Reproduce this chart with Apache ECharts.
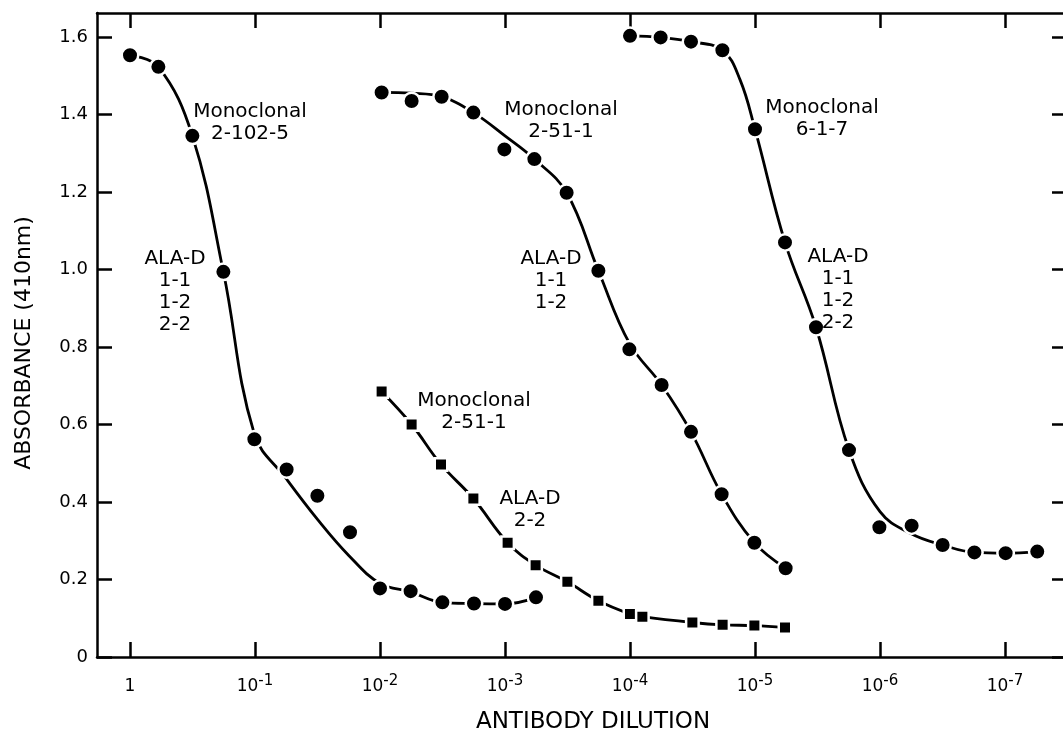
<!DOCTYPE html>
<html>
<head>
<meta charset="utf-8">
<script src="https://cdn.jsdelivr.net/npm/echarts@6/dist/echarts.min.js"></script>
<style>
html,body{margin:0;padding:0;background:#fff;}
#chart{width:1063px;height:739px;}
</style>
</head>
<body>
<div id="chart"></div>
<script>
// x = -log10(antibody dilution): 0 -> 1, 1 -> 10^-1, ... 7 -> 10^-7
const xTickValues = [0, 1, 2, 3, 4, 5, 6, 7];
const xTickBase = ['1', '10', '10', '10', '10', '10', '10', '10'];
const xTickSup = ['', '-1', '-2', '-3', '-4', '-5', '-6', '-7'];
const yTickValues = [0, 0.2, 0.4, 0.6, 0.8, 1.0, 1.2, 1.4, 1.6];
const yTickLabels = ['0', '0.2', '0.4', '0.6', '0.8', '1.0', '1.2', '1.4', '1.6'];

// Monoclonal 2-102-5 (circles)
const mono2102X = [0, 0.227, 0.499, 0.747, 0.995, 1.253, 1.499, 1.76, 2.0, 2.245, 2.499, 2.752, 3.0, 3.248];
const mono2102Y = [1.553, 1.523, 1.345, 0.994, 0.562, 0.484, 0.416, 0.322, 0.177, 0.170, 0.141, 0.138, 0.137, 0.154];
const fit2102X = [0, 0.227, 0.499, 0.747, 0.995, 1.25, 1.5, 1.75, 2.0, 2.245, 2.499, 2.752, 3.0, 3.248];
const fit2102Y = [1.553, 1.523, 1.345, 0.994, 0.575, 0.46, 0.355, 0.262, 0.19, 0.168, 0.141, 0.138, 0.137, 0.154];

// Monoclonal 2-51-1 (circles)
const mono251X = [2.013, 2.253, 2.493, 2.747, 2.995, 3.235, 3.493, 3.747, 3.995, 4.253, 4.488, 4.733, 4.995, 5.245];
const mono251Y = [1.457, 1.435, 1.446, 1.405, 1.310, 1.285, 1.198, 0.997, 0.794, 0.702, 0.581, 0.420, 0.295, 0.229];
const fit251X = [2.013, 2.25, 2.493, 2.747, 3.0, 3.235, 3.493, 3.747, 3.995, 4.253, 4.488, 4.733, 4.995, 5.245];
const fit251Y = [1.457, 1.455, 1.446, 1.405, 1.345, 1.285, 1.198, 0.997, 0.81, 0.702, 0.581, 0.420, 0.295, 0.229];

// Monoclonal 6-1-7 (circles)
const mono617X = [4.0, 4.245, 4.488, 4.739, 5.0, 5.24, 5.488, 5.752, 5.995, 6.253, 6.501, 6.755, 7.005, 7.258];
const mono617Y = [1.603, 1.599, 1.588, 1.566, 1.362, 1.070, 0.851, 0.534, 0.335, 0.339, 0.289, 0.270, 0.268, 0.272];
const fit617X = [4.0, 4.245, 4.488, 4.739, 4.88, 5.0, 5.24, 5.488, 5.752, 6.0, 6.25, 6.501, 6.755, 7.005, 7.258];
const fit617Y = [1.603, 1.599, 1.588, 1.566, 1.49, 1.362, 1.070, 0.851, 0.534, 0.375, 0.318, 0.289, 0.270, 0.268, 0.272];

// Monoclonal 2-51-1, ALA-D 2-2 (squares)
const sqX = [2.013, 2.253, 2.488, 2.747, 3.021, 3.245, 3.499, 3.747, 4.0, 4.099, 4.499, 4.741, 4.995, 5.24];
const sqY = [0.685, 0.600, 0.497, 0.409, 0.295, 0.237, 0.194, 0.145, 0.111, 0.104, 0.089, 0.083, 0.081, 0.076];

// Annotations (text anchored at data coordinates)
const noteText = [
  'Monoclonal\n2-102-5',
  'ALA-D\n1-1\n1-2\n2-2',
  'Monoclonal\n2-51-1',
  'ALA-D\n1-1\n1-2',
  'Monoclonal\n6-1-7',
  'ALA-D\n1-1\n1-2\n2-2',
  'Monoclonal\n2-51-1',
  'ALA-D\n2-2'
];
const noteX = [0.96, 0.36, 3.448, 3.368, 5.536, 5.664, 2.752, 3.2];
const noteY = [1.379, 0.942, 1.383, 0.970, 1.388, 0.947, 0.632, 0.379];

const FONT = 'DejaVu Sans';
const zip = (xs, ys) => xs.map((x, i) => [x, ys[i]]);
const XMIN = -0.264, XMAX = 7.48, YMIN = 0, YMAX = 1.662;

const axisLineStyle = { color: '#000', width: 2.5 };

const curveSeries = (data) => ({
  type: 'line', data, smooth: 0.4, showSymbol: false, symbol: 'none',
  lineStyle: { color: '#000', width: 2.8 }, z: 2, silent: true, animation: false
});
const pointSeries = (data, symbol, size) => ({
  type: 'scatter', data, symbol, symbolSize: size,
  itemStyle: { color: '#000', borderColor: '#fff', borderWidth: 2.5, opacity: 1 },
  z: 3, silent: true, animation: false
});

const chart = echarts.init(document.getElementById('chart'), null, { renderer: 'canvas' });
chart.setOption({
  backgroundColor: '#fff',
  animation: false,
  grid: { left: 97, top: 13, width: 968, height: 644, outerBoundsMode: 'none', containLabel: false },
  xAxis: [
    {
      type: 'value', min: XMIN, max: XMAX, position: 'bottom',
      name: 'ANTIBODY DILUTION', nameLocation: 'middle', nameGap: 54,
      nameTextStyle: { fontFamily: FONT, fontSize: 23, color: '#000', padding: [0, 0, 0, 24] },
      axisLine: { show: true, onZero: false, lineStyle: axisLineStyle },
      axisTick: { show: true, inside: true, length: 15, lineStyle: axisLineStyle, customValues: xTickValues },
      splitLine: { show: false },
      axisLabel: {
        customValues: xTickValues, margin: 17, color: '#000',
        formatter: (v) => {
          const i = xTickValues.findIndex(t => Math.abs(t - v) < 1e-6);
          if (i < 0) return '';
          return xTickSup[i] ? '{b|' + xTickBase[i] + '}{s|' + xTickSup[i] + '}' : '{b|' + xTickBase[i] + '}';
        },
        rich: {
          b: { fontFamily: FONT, fontSize: 17, lineHeight: 26, color: '#000' },
          s: { fontFamily: FONT, fontSize: 15, lineHeight: 8, verticalAlign: 'top', color: '#000' }
        }
      }
    },
    {
      type: 'value', min: XMIN, max: XMAX, position: 'top',
      axisLine: { show: true, onZero: false, lineStyle: axisLineStyle },
      axisTick: { show: true, inside: true, length: 15, lineStyle: axisLineStyle, customValues: xTickValues },
      axisLabel: { show: false },
      splitLine: { show: false }
    }
  ],
  yAxis: [
    {
      type: 'value', min: YMIN, max: YMAX, position: 'left',
      name: 'ABSORBANCE (410nm)', nameLocation: 'middle', nameGap: 62,
      nameTextStyle: { fontFamily: FONT, fontSize: 22, color: '#000', padding: [0, 16, 0, 0] },
      axisLine: { show: true, onZero: false, lineStyle: axisLineStyle },
      axisTick: { show: true, inside: true, length: 15, lineStyle: axisLineStyle, customValues: yTickValues },
      splitLine: { show: false },
      axisLabel: {
        customValues: yTickValues, margin: 9, color: '#000', fontFamily: FONT, fontSize: 18,
        formatter: (v) => {
          const i = yTickValues.findIndex(t => Math.abs(t - v) < 1e-6);
          return i < 0 ? '' : yTickLabels[i];
        }
      }
    },
    {
      type: 'value', min: YMIN, max: YMAX, position: 'right',
      axisLine: { show: false, onZero: false, lineStyle: axisLineStyle },
      axisTick: { show: true, inside: true, length: 13, lineStyle: axisLineStyle, customValues: yTickValues },
      axisLabel: { show: false },
      splitLine: { show: false }
    }
  ],
  series: [
    curveSeries(zip(fit2102X, fit2102Y)),
    curveSeries(zip(fit251X, fit251Y)),
    curveSeries(zip(fit617X, fit617Y)),
    curveSeries(zip(sqX, sqY)),
    pointSeries(zip(mono2102X, mono2102Y), 'circle', 16.5),
    pointSeries(zip(mono251X, mono251Y), 'circle', 16.5),
    pointSeries(zip(mono617X, mono617Y), 'circle', 16.5),
    pointSeries(zip(sqX, sqY), 'rect', 12.5),
    {
      type: 'scatter', symbolSize: 0, silent: true, z: 5, animation: false,
      itemStyle: { opacity: 1, color: '#000' },
      data: noteText.map((t, i) => ({ value: [noteX[i], noteY[i]], text: t })),
      label: {
        show: true, position: 'inside', color: '#000', opacity: 1, fontFamily: FONT, fontSize: 20, lineHeight: 22,
        fontWeight: 'normal', textBorderWidth: 0, textShadowBlur: 0,
        align: 'center', verticalAlign: 'middle',
        formatter: (p) => p.data.text
      }
    }
  ]
});
</script>
</body>
</html>
